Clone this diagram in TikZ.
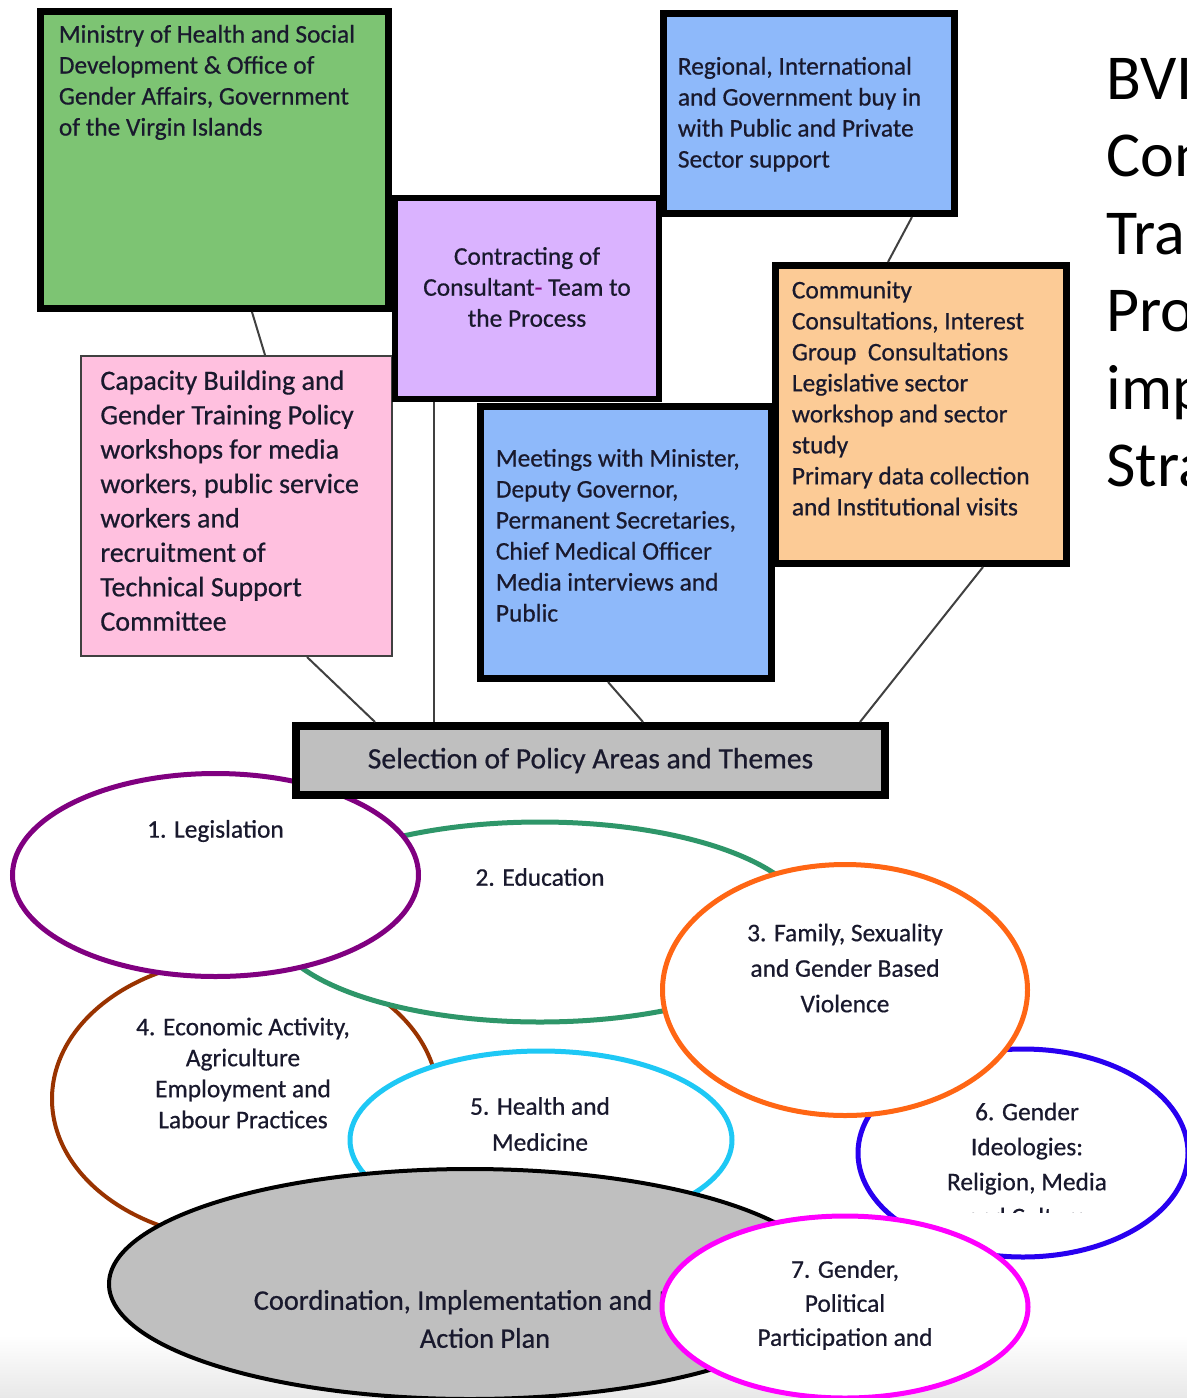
\documentclass[tikz,border=0pt]{standalone}
\usepackage{fontspec}
\setmainfont{Carlito}[UprightFeatures={FakeBold=0.6}]
\newfontfamily\titlefont{Carlito}
\usetikzlibrary{shapes.geometric,positioning,calc}
\definecolor{ink}{RGB}{25,25,45}
\definecolor{linkgray}{RGB}{64,64,64}
\definecolor{ministrygreen}{RGB}{125,196,115}
\definecolor{contractlilac}{RGB}{218,179,255}
\definecolor{supportblue}{RGB}{142,185,250}
\definecolor{consultorange}{RGB}{252,203,150}
\definecolor{trainingpink}{RGB}{255,192,223}
\definecolor{themegray}{RGB}{191,191,191}
\definecolor{legispurple}{RGB}{128,0,128}
\definecolor{edugreen}{RGB}{46,150,105}
\definecolor{familyorange}{RGB}{255,102,20}
\definecolor{econbrown}{RGB}{153,51,0}
\definecolor{healthcyan}{RGB}{30,200,245}
\definecolor{ideologyblue}{RGB}{40,0,240}
\definecolor{politicsmagenta}{RGB}{255,0,255}

\begin{document}
\begin{tikzpicture}[x=0.5pt, y=-0.5pt,
    box/.style={rectangle, draw=black, line width=3.5pt, inner sep=0pt},
    boxtext/.style={align=left, inner sep=0pt, text=ink, font=\fontsize{12.7}{15.5}\selectfont},
    ring/.style={ellipse, draw=#1, line width=2.5pt, fill=white, inner sep=0pt},
    ringtext/.style={align=center, inner sep=0pt, text=ink, font=\fontsize{12.7}{#1}\selectfont},
    ringtext/.default=15.5,
    link/.style={draw=linkgray, line width=1pt}]
    \clip (0,0) rectangle (1187,1398);
    \fill [top color=white, bottom color=black!9] (0,1335) rectangle (1187,1398);

    % boxes of the process
    \node [box, fill=ministrygreen, minimum width=174pt, minimum height=148.5pt] (ministry) at (214.5,160) {};
    \node [boxtext, below right=8.25pt and 10.75pt of ministry.north west] (ministrytext) {Ministry of Health and Social\\Development \& Office of\\Gender Affairs, Government\\of the Virgin Islands};
    \node [box, fill=trainingpink, draw=black!75, line width=1pt, minimum width=155.5pt, minimum height=150pt] (capacity) at (236.5,506) {};
    \node [boxtext, font=\fontsize{14}{17.2}\selectfont, below right=7.5pt and 10pt of capacity.north west] (capacitytext) {Capacity Building and\\Gender Training Policy\\workshops for media\\workers, public service\\workers and\\recruitment of\\Technical Support\\Committee};
    \node [box, fill=contractlilac, line width=3pt, minimum width=132pt, minimum height=100.5pt] (contracting) at (527,298.5) {};
    \node [boxtext, align=center] (contractingtext) at ([yshift=5.75pt]contracting.center) {Contracting of\\Consultant{\color{legispurple}-} Team to\\the Process};
    \node [box, fill=supportblue, minimum width=145.5pt, minimum height=100pt] (buyin) at (809,113.5) {};
    \node [boxtext, below right=23.25pt and 8.75pt of buyin.north west] (buyintext) {Regional, International\\and Government buy in\\with Public and Private\\Sector support};
    \node [box, fill=supportblue, minimum width=145.5pt, minimum height=136pt] (meetings) at (626,542.5) {};
    \node [boxtext, below right=22.75pt and 9.25pt of meetings.north west] (meetingstext) {Meetings with Minister,\\Deputy Governor,\\Permanent Secretaries,\\Chief Medical Officer\\Media interviews and\\Public};
    \node [box, fill=consultorange, minimum width=145.5pt, minimum height=149pt] (community) at (921,414.5) {};
    \node [boxtext, below right=9.25pt and 9.75pt of community.north west] (communitytext) {Community\\Consultations, Interest\\Group\ \ Consultations\\Legislative sector\\workshop and sector\\study\\Primary data collection\\and Institutional visits};

    % policy areas (back ones)
    \node [ring=econbrown, line width=2pt, minimum width=193pt, minimum height=141pt] (economic) at (245,1099) {};
    \node [ringtext] (economictext) at ([shift={(-2,-26)}]economic.center) {4. Economic Activity,\\Agriculture\\Employment and\\Labour Practices};
    \node [ring=edugreen, minimum width=268pt, minimum height=100pt] (education) at (540,922) {};
    \node [ringtext] (educationtext) at ([shift={(0,-45)}]education.center) {2. Education};
    \node [ring=legispurple, minimum width=203pt, minimum height=101.5pt] (legislation) at (215.5,875) {};
    \node [ringtext] (legislationtext) at ([shift={(0,-44)}]legislation.center) {1. Legislation};

    \node [box, fill=themegray, line width=4pt, minimum width=294.5pt, minimum height=34.5pt, text=ink, font=\fontsize{14.8}{17}\selectfont] (selection) at (590.5,760.5) {Selection of Policy Areas and Themes};

    % links
    \draw [link] ([xshift=18.75pt]ministry.south) -- ([xshift=14.25pt]capacity.north);
    \draw [link] ([xshift=51.5pt]buyin.south) -- ([xshift=-16.5pt]community.north);
    \draw [link] ([xshift=35.25pt]capacity.south) -- ([xshift=-107.75pt]selection.north);
    \draw [link] ([xshift=-46.5pt]contracting.south) -- ([xshift=-46.5pt]contracting.south |- selection.north);
    \draw [link] ([xshift=-9pt]meetings.south) -- ([xshift=26.25pt]selection.north);
    \draw [link] ([xshift=31pt]community.south) -- ([xshift=134.75pt]selection.north);

    % policy areas (front ones)
    \node [ring=ideologyblue, minimum width=165pt, minimum height=104pt] (ideology) at (1023,1153) {};
    \begin{scope}
      \clip (840,1040) rectangle (1187,1212);
      \node [ringtext=17.5] (ideologytext) at ([shift={(4,11)}]ideology.center) {6. Gender\\Ideologies:\\Religion, Media\\and Culture};
    \end{scope}
    \node [ring=familyorange, minimum width=182.5pt, minimum height=125.5pt] (family) at (845,990) {};
    \node [ringtext=17.75] (familytext) at ([shift={(0,-22)}]family.center) {3. Family, Sexuality\\and Gender Based\\Violence};
    \node [ring=healthcyan, minimum width=191pt, minimum height=89pt] (health) at (541,1140) {};
    \node [ringtext=18] (healthtext) at ([shift={(-1,-16)}]health.center) {5. Health and\\Medicine};
    \node [ring=black, fill=themegray, line width=2pt, minimum width=361pt, minimum height=115pt] (coordination) at (470,1284) {};
    \node [ringtext, font=\fontsize{14.2}{19}\selectfont] (coordinationtext) at ([shift={(15,35)}]coordination.center) {Coordination, Implementation and M\&E\\Action Plan};
    \node [ring=politicsmagenta, minimum width=183pt, minimum height=91pt] (politics) at (845,1307) {};
    \node [ringtext=17] (politicstext) at ([shift={(0,-2)}]politics.center) {7. Gender,\\Political\\Participation and};

    % title at the right edge
    \node [align=left, inner sep=0pt, anchor=north west, font=\titlefont\fontsize{32}{38.75}\selectfont] (strategytitle) at (1106,58) {BVI\\Con\\Tra\\Pro\\imp\\Stra};
\end{tikzpicture}
\end{document}
